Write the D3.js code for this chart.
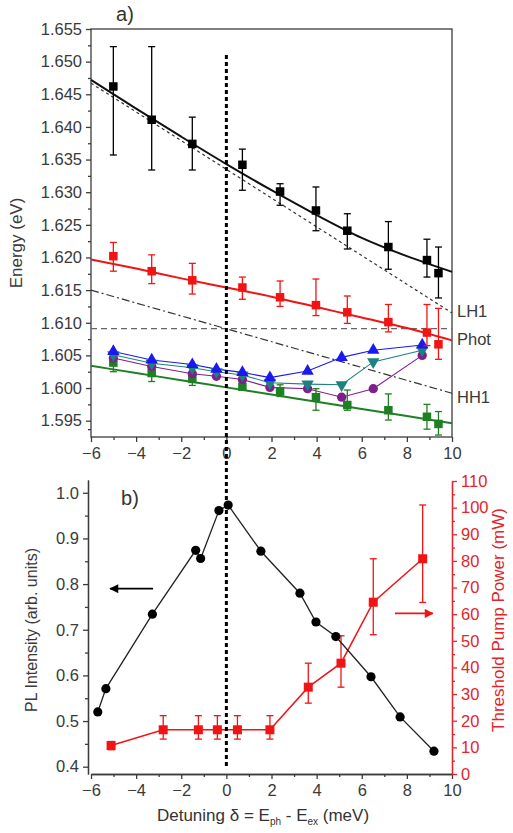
<!DOCTYPE html>
<html>
<head>
<meta charset="utf-8">
<script src="https://cdn.jsdelivr.net/npm/d3@7"></script>
<style>
  body { margin: 0; background: #fff; }
  svg { display: block; font-family: "Liberation Sans", Arial, sans-serif; }
  .axis path, .axis line { stroke: #3c3c3c; stroke-width: 1.3; }
  .axis text { fill: #3a3a3a; font-size: 16.5px; font-family: "Liberation Sans", Arial, sans-serif; }
  .raxis path, .raxis line { stroke: #e3242b; }
  .raxis text { fill: #e3242b; }
</style>
</head>
<body>
<div id="chart"></div>
<script>
// ---- panel a) : energies vs detuning ----
const detA = [-5.01, -3.31, -1.51, 0.71, 2.38, 3.97, 5.36, 7.18, 8.89, 9.40];
const upE  = [1.6462, 1.6411, 1.6374, 1.6342, 1.6301, 1.6272, 1.6241, 1.6216, 1.6196, 1.6176];
const upHi = [1.6523, 1.6523, 1.6415, 1.6366, 1.6313, 1.6308, 1.6267, 1.6255, 1.6228, 1.6216];
const upLo = [1.6357, 1.6334, 1.6334, 1.6303, 1.6280, 1.6241, 1.6213, 1.6182, 1.6170, 1.6138];

const mpE  = [1.6202, 1.6179, 1.6165, 1.6154, 1.6139, 1.6127, 1.6116, 1.6101, 1.6085, 1.6067];
const mpHi = [1.6223, 1.6204, 1.6191, 1.6170, 1.6164, 1.6167, 1.6141, 1.6128, 1.6128, 1.6122];
const mpLo = [1.6179, 1.6160, 1.6144, 1.6136, 1.6125, 1.6111, 1.6099, 1.6086, 1.6065, 1.6044];

const lpE  = [1.6039, 1.6023, 1.6014, 1.6002, 1.5995, 1.5986, 1.5974, 1.5966, 1.5956, 1.5945];
const lpHi = [1.6045, 1.6043, 1.6025, 1.6005, 1.6005, 1.5999, 1.5997, 1.5991, 1.5975, 1.5964];
const lpLo = [1.6025, 1.6010, 1.6004, 1.5999, 1.5987, 1.5966, 1.5966, 1.5951, 1.5937, 1.5928];

const detB   = [-5.01, -3.31, -1.51, -0.44, 0.71, 1.93, 3.60, 5.11, 6.51, 8.68];
const blueE  = [1.6056, 1.6043, 1.6036, 1.6029, 1.6024, 1.6016, 1.6026, 1.6047, 1.6058, 1.6066];
const tealE  = [1.6051, 1.6038, 1.6031, 1.6025, 1.6020, 1.6008, 1.6006, 1.6005, 1.6040, 1.6058];
const purpE  = [1.6046, 1.6033, 1.6022, 1.6018, 1.6013, 1.6001, 1.5999, 1.5986, 1.5999, 1.6050];

const fitX   = [-6, -4, -2, 0, 2, 4, 6, 8, 10];
const upFit  = [1.6472, 1.6428, 1.6385, 1.6343, 1.6303, 1.6265, 1.6230, 1.6202, 1.6178];
const mpFit  = [1.6197, 1.6183, 1.6168, 1.6154, 1.6140, 1.6124, 1.6108, 1.6092, 1.6073];
const lpFit  = [1.6034, 1.6023, 1.6012, 1.6001, 1.5990, 1.5979, 1.5968, 1.5957, 1.5946];

const bareX  = [-6, 10];
const lh1    = [1.6467, 1.6115];
const hh1    = [1.6150, 1.5992];
const phot   = [1.6091, 1.6091];
const bareLabels = ["LH1", "Phot", "HH1"];
const bareLabelE = [1.6118, 1.6075, 1.5987];

const yTicksA = [1.595, 1.600, 1.605, 1.610, 1.615, 1.620, 1.625, 1.630, 1.635, 1.640, 1.645, 1.650, 1.655];
const xTicks  = [-6, -4, -2, 0, 2, 4, 6, 8, 10];

// ---- panel b) : PL intensity and threshold ----
const plX = [-5.70, -5.34, -3.28, -1.36, -1.14, -0.33, 0.08, 1.53, 3.26, 3.97, 4.85, 6.41, 7.70, 9.20];
const pl  = [0.520, 0.571, 0.734, 0.874, 0.856, 0.961, 0.973, 0.872, 0.780, 0.717, 0.685, 0.597, 0.509, 0.434];

const thX  = [-5.11, -2.80, -1.24, -0.40, 0.49, 1.93, 3.63, 5.08, 6.51, 8.70];
const th   = [10.7, 16.6, 16.6, 16.6, 16.6, 16.6, 32.6, 41.6, 64.5, 80.8];
const thHi = [12.2, 21.9, 21.9, 21.9, 21.9, 21.9, 41.6, 51.9, 80.8, 101.0];
const thLo = [9.1, 13.1, 13.1, 13.1, 13.1, 13.1, 26.6, 32.6, 52.3, 64.4];

const plTicks = [0.4, 0.5, 0.6, 0.7, 0.8, 0.9, 1.0];
const thTicks = [0, 10, 20, 30, 40, 50, 60, 70, 80, 90, 100, 110];

const W = 513, H = 833;
const svg = d3.select("#chart").append("svg").attr("width", W).attr("height", H);

const x = d3.scaleLinear().domain([-6, 10]).range([91, 452]);
const yA = d3.scaleLinear().domain([1.5925, 1.655]).range([437, 29]);
const yPL = d3.scaleLinear().domain([0.384, 1.028]).range([774, 480]);
const yTh = d3.scaleLinear().domain([0, 110]).range([774, 481]);

const red = "#f01414", redTxt = "#e3242b";
const green = "#1f7f23", blue = "#1a1aee", teal = "#1f8080", purple = "#7e1f8c";

const minorBetween = (ticks) => ticks.slice(0, -1).map((t, i) => (t + ticks[i + 1]) / 2);
const xMinor = d3.range(-5, 10, 2);

// ---------- panel a axes ----------
const gA = svg.append("g");
gA.append("rect").attr("x", 91).attr("y", 29).attr("width", 361).attr("height", 408)
  .attr("fill", "none").attr("stroke", "#3c3c3c").attr("stroke-width", 1.3);

gA.append("g").attr("class", "axis").attr("transform", "translate(91,0)")
  .call(d3.axisLeft(yA).tickValues(yTicksA).tickFormat(d3.format(".3f")).tickSize(5).tickSizeOuter(0).tickPadding(4));
gA.append("g").attr("class", "axis").attr("transform", "translate(91,0)")
  .call(d3.axisLeft(yA).tickValues(minorBetween(yTicksA).concat([1.5937])).tickFormat("").tickSize(3).tickSizeOuter(0));
gA.append("g").attr("class", "axis").attr("transform", "translate(0,437)")
  .call(d3.axisBottom(x).tickValues(xTicks).tickSize(5).tickSizeOuter(0).tickPadding(5));
gA.append("g").attr("class", "axis").attr("transform", "translate(0,437)")
  .call(d3.axisBottom(x).tickValues(xMinor).tickFormat("").tickSize(3).tickSizeOuter(0));
gA.selectAll(".axis .domain").remove();

gA.append("text").attr("x", 125).attr("y", 21).attr("text-anchor", "middle")
  .attr("font-size", 20).attr("fill", "#333").text("a)");
gA.append("text").attr("transform", `translate(22,${(29 + 437) / 2 + 10}) rotate(-90)`)
  .attr("text-anchor", "middle").attr("font-size", 17).attr("fill", "#3a3a3a").text("Energy (eV)");

const zipA = (xs, ys) => xs.map((v, i) => [v, ys[i]]);

const plotA = gA.append("g");
// bare modes
const straight = d3.line().x(d => x(d[0])).y(d => yA(d[1]));
plotA.append("path").datum(zipA(bareX, lh1)).attr("d", straight)
  .attr("fill", "none").attr("stroke", "#333").attr("stroke-width", 1.2).attr("stroke-dasharray", "3,3");
plotA.append("path").datum(zipA(bareX, hh1)).attr("d", straight)
  .attr("fill", "none").attr("stroke", "#333").attr("stroke-width", 1.2).attr("stroke-dasharray", "8,3,2,3");
plotA.append("path").datum(zipA(bareX, phot)).attr("d", straight)
  .attr("fill", "none").attr("stroke", "#666").attr("stroke-width", 1.4).attr("stroke-dasharray", "6,4");

// fits
const fitLine = d3.line().x(d => x(d[0])).y(d => yA(d[1])).curve(d3.curveMonotoneX);
[[upFit, "#111"], [mpFit, red], [lpFit, green]].forEach(([ys, c]) => {
  plotA.append("path").datum(zipA(fitX, ys)).attr("d", fitLine)
    .attr("fill", "none").attr("stroke", c).attr("stroke-width", 2);
});

// connected intermediate series
[[purpE, purple], [tealE, teal], [blueE, blue]].forEach(([ys, c]) => {
  plotA.append("path").datum(zipA(detB, ys)).attr("d", straight)
    .attr("fill", "none").attr("stroke", c).attr("stroke-width", 1.1);
});

// error bars + squares
function errSquares(g, xs, ys, lo, hi, ysc, color, size) {
  const d = xs.map((v, i) => ({ x: v, y: ys[i], lo: lo[i], hi: hi[i] }));
  const eg = g.append("g").attr("stroke", color).attr("stroke-width", 1.3);
  eg.selectAll("line.v").data(d).join("line").attr("class", "v")
    .attr("x1", p => x(p.x)).attr("x2", p => x(p.x)).attr("y1", p => ysc(p.lo)).attr("y2", p => ysc(p.hi));
  eg.selectAll("line.t").data(d).join("line").attr("class", "t")
    .attr("x1", p => x(p.x) - 3.5).attr("x2", p => x(p.x) + 3.5).attr("y1", p => ysc(p.hi)).attr("y2", p => ysc(p.hi));
  eg.selectAll("line.b").data(d).join("line").attr("class", "b")
    .attr("x1", p => x(p.x) - 3.5).attr("x2", p => x(p.x) + 3.5).attr("y1", p => ysc(p.lo)).attr("y2", p => ysc(p.lo));
  g.append("g").selectAll("rect").data(d).join("rect")
    .attr("x", p => x(p.x) - size / 2).attr("y", p => ysc(p.y) - size / 2)
    .attr("width", size).attr("height", size).attr("fill", color);
}

errSquares(plotA, detA, lpE, lpLo, lpHi, yA, green, 8.5);

const sym = (type, size) => d3.symbol().type(type).size(size);
plotA.append("g").selectAll("path").data(zipA(detB, purpE)).join("path")
  .attr("transform", d => `translate(${x(d[0])},${yA(d[1])})`)
  .attr("d", sym(d3.symbolCircle, 68)).attr("fill", purple);
plotA.append("g").selectAll("path").data(zipA(detB, tealE)).join("path")
  .attr("transform", d => `translate(${x(d[0])},${yA(d[1])}) rotate(180)`)
  .attr("d", sym(d3.symbolTriangle, 66)).attr("fill", teal);
plotA.append("g").selectAll("path").data(zipA(detB, blueE)).join("path")
  .attr("transform", d => `translate(${x(d[0])},${yA(d[1])})`)
  .attr("d", sym(d3.symbolTriangle, 66)).attr("fill", blue);

errSquares(plotA, detA, mpE, mpLo, mpHi, yA, red, 8.5);
errSquares(plotA, detA, upE, upLo, upHi, yA, "#000", 8.5);

gA.append("g").selectAll("text").data(bareLabels).join("text")
  .attr("x", 457).attr("y", (d, i) => yA(bareLabelE[i]) + 6)
  .attr("font-size", 16.5).attr("fill", "#3a3a3a").text(d => d);

// ---------- panel b ----------
const gB = svg.append("g");
gB.append("g").attr("class", "axis").attr("transform", "translate(88,0)")
  .call(d3.axisLeft(yPL).tickValues(plTicks).tickFormat(d3.format(".1f")).tickSize(5).tickSizeOuter(0).tickPadding(4));
gB.append("g").attr("class", "axis").attr("transform", "translate(88,0)")
  .call(d3.axisLeft(yPL).tickValues(minorBetween(plTicks)).tickFormat("").tickSize(3).tickSizeOuter(0));
gB.append("g").attr("class", "axis").attr("transform", "translate(0,774)")
  .call(d3.axisBottom(x).tickValues(xTicks).tickSize(5).tickSizeOuter(0).tickPadding(5));
gB.append("g").attr("class", "axis").attr("transform", "translate(0,774)")
  .call(d3.axisBottom(x).tickValues(xMinor).tickFormat("").tickSize(3).tickSizeOuter(0));
gB.append("g").attr("class", "axis raxis").attr("transform", "translate(452,0)")
  .call(d3.axisRight(yTh).tickValues(thTicks).tickSize(5).tickSizeOuter(0).tickPadding(4));
gB.append("g").attr("class", "axis raxis").attr("transform", "translate(452,0)")
  .call(d3.axisRight(yTh).tickValues(minorBetween(thTicks)).tickFormat("").tickSize(3).tickSizeOuter(0));

gB.append("text").attr("x", 130).attr("y", 505).attr("text-anchor", "middle")
  .attr("font-size", 20).attr("fill", "#333").text("b)");

gB.append("text").attr("transform", `translate(37,630) rotate(-90)`)
  .attr("text-anchor", "middle").attr("font-size", 16).attr("fill", "#3a3a3a").text("PL Intensity (arb. units)");
gB.append("text").attr("transform", `translate(504,620) rotate(-90)`)
  .attr("text-anchor", "middle").attr("font-size", 17).attr("fill", redTxt).text("Threshold Pump Power (mW)");

const xl = gB.append("text").attr("x", 263).attr("y", 821).attr("text-anchor", "middle")
  .attr("font-size", 17).attr("fill", "#333");
xl.append("tspan").text("Detuning \u03b4 = E");
xl.append("tspan").attr("font-size", 10).attr("dy", 4).text("ph");
xl.append("tspan").attr("dy", -4).text(" - E");
xl.append("tspan").attr("font-size", 10).attr("dy", 4).text("ex");
xl.append("tspan").attr("dy", -4).text(" (meV)");

// threshold (red)
gB.append("path").datum(zipA(thX, th)).attr("d", d3.line().x(d => x(d[0])).y(d => yTh(d[1])))
  .attr("fill", "none").attr("stroke", red).attr("stroke-width", 1.5);
errSquares(gB, thX, th, thLo, thHi, yTh, red, 9);

// PL (black)
gB.append("path").datum(zipA(plX, pl)).attr("d", d3.line().x(d => x(d[0])).y(d => yPL(d[1])))
  .attr("fill", "none").attr("stroke", "#222").attr("stroke-width", 1.3);
gB.append("g").selectAll("circle").data(zipA(plX, pl)).join("circle")
  .attr("cx", d => x(d[0])).attr("cy", d => yPL(d[1])).attr("r", 4.6).attr("fill", "#000");

// arrows
const defs = svg.append("defs");
[["ab", "#000"], ["ar", red]].forEach(([id, c]) => {
  defs.append("marker").attr("id", id).attr("viewBox", "0 0 10 10").attr("refX", 9).attr("refY", 5)
    .attr("markerWidth", 7).attr("markerHeight", 5).attr("orient", "auto")
    .append("path").attr("d", "M0,0 L10,5 L0,10 z").attr("fill", c);
});
gB.append("line").attr("x1", x(-3.25)).attr("x2", x(-5.15)).attr("y1", yPL(0.790)).attr("y2", yPL(0.790))
  .attr("stroke", "#000").attr("stroke-width", 1.8).attr("marker-end", "url(#ab)");
gB.append("line").attr("x1", x(7.47)).attr("x2", x(9.15)).attr("y1", yTh(60.3)).attr("y2", yTh(60.3))
  .attr("stroke", red).attr("stroke-width", 1.8).attr("marker-end", "url(#ar)");

// zero-detuning dotted line across both panels
svg.append("line").attr("x1", x(0)).attr("x2", x(0)).attr("y1", 55).attr("y2", 768)
  .attr("stroke", "#000").attr("stroke-width", 3).attr("stroke-dasharray", "4,3");
</script>
</body>
</html>
